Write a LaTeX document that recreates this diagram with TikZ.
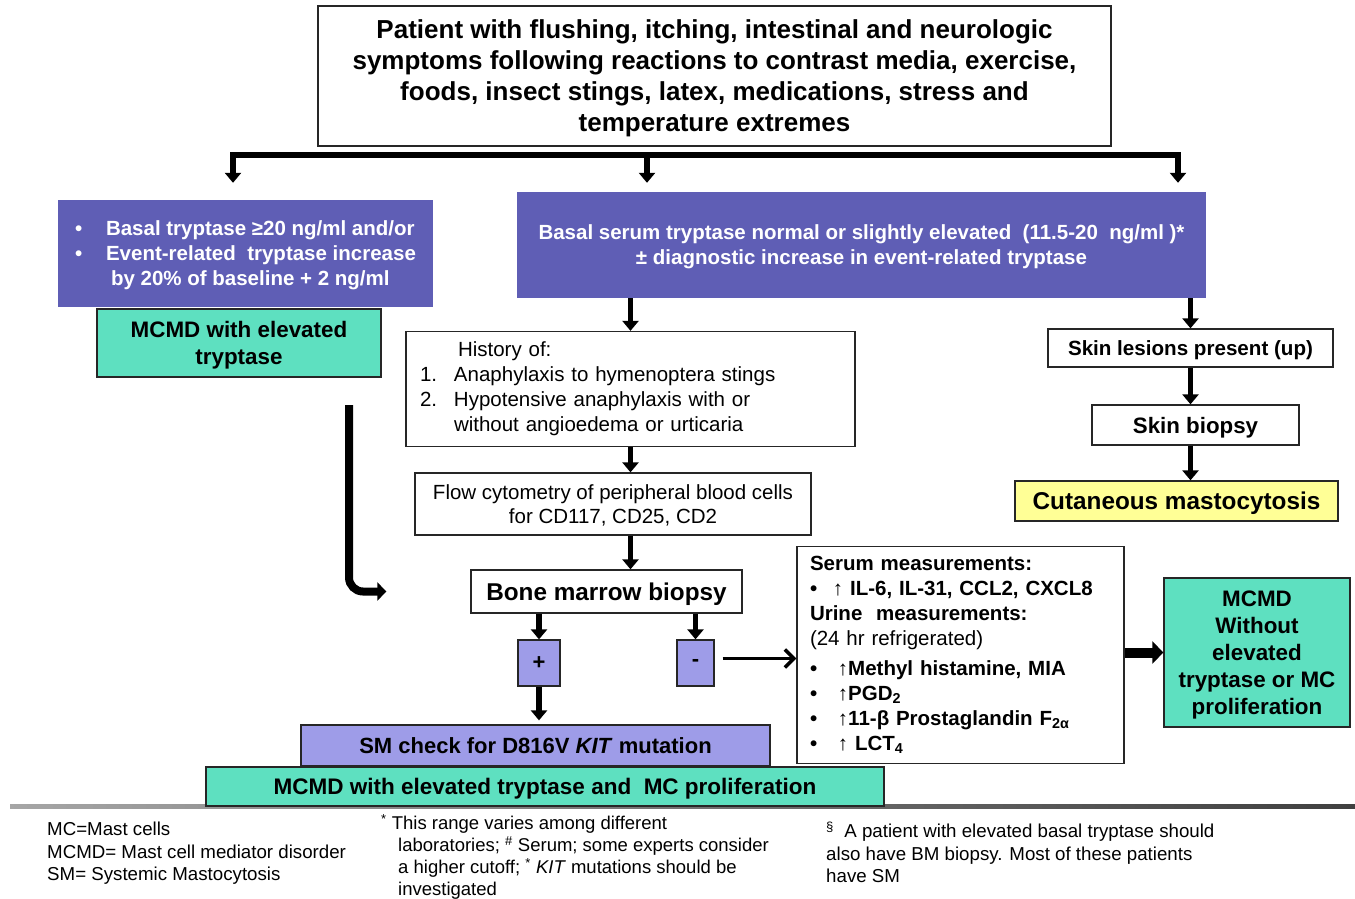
\documentclass[tikz,border=0pt]{standalone}
\usepackage{fontspec}
\setmainfont{Liberation Sans}
\usetikzlibrary{arrows.meta}
\definecolor{boxpurple}{RGB}{95,94,181}
\definecolor{lightpurple}{RGB}{158,156,232}
\definecolor{mint}{RGB}{94,224,192}
\definecolor{paleyellow}{RGB}{255,255,150}
\newcommand{\fsize}[2]{\fontsize{#1}{#2}\selectfont}

\begin{document}
\begin{tikzpicture}[x=1pt, y=-1pt, >={Triangle[length=10pt,width=16pt]},
    plain/.style={draw=black!85, line width=1.3pt, fill=white, inner sep=0pt},
    plainbox/.style={plain, text depth=0pt},
    purplebox/.style={fill=boxpurple, text=white, inner sep=0pt, text depth=0pt},
    mintbox/.style={plainbox, fill=mint},
    arr/.style={->, line width=5.5pt}]
\useasboundingbox (0,0) rectangle (1355,898);
\shade[left color=black!35, right color=black!75] (10,804) rectangle (1355,808);

\node[plainbox, minimum width=793, minimum height=140, align=center, font=\bfseries\fsize{26}{31}] (patient) at (714.5,76)
    {Patient with flushing, itching, intestinal and neurologic\\symptoms following reactions to contrast media, exercise,\\foods, insect stings, latex, medications, stress and\\temperature extremes};
\coordinate (barL) at (233,155);
\coordinate (barM) at (647,155);
\coordinate (barR) at (1178,155);
\draw[line width=5.5pt, line cap=rect] (barL) -- (barR);

\node[purplebox, minimum width=375, minimum height=107, align=left, font=\bfseries\fsize{20.5}{25}] (tryphigh) at (245.5,253.5)
    {\makebox[31pt][l]{\textbullet}Basal tryptase ≥20 ng/ml and/or\\\makebox[31pt][l]{\textbullet}Event-related~ tryptase increase\\\hspace*{36pt}by 20\% of baseline + 2 ng/ml};
\node[mintbox, minimum width=284, minimum height=68, align=center, font=\bfseries\fsize{22.4}{27}] (mcmdhigh) at (239,343) {MCMD with elevated\\tryptase};
\node[purplebox, minimum width=689, minimum height=106, align=center, font=\bfseries\fsize{20.5}{25}] (trypnorm) at (861.5,245)
    {Basal serum tryptase normal or slightly elevated~ (11.5-20~ ng/ml )*\\± diagnostic increase in event-related tryptase};
\draw[arr, shorten >=17pt] (barL) -- (barL |- tryphigh.north);
\draw[arr, shorten >=9pt] (barM) -- (barM |- trypnorm.north);
\draw[arr, shorten >=9pt] (barR) -- (barR |- trypnorm.north);

\node[plain, minimum height=115, text width=421, inner xsep=14pt, align=left, font=\fsize{20.5}{25}] (history) at (630.5,389)
    {\hspace*{38pt}History of:\\\makebox[34pt][l]{1.}Anaphylaxis to hymenoptera stings\\\makebox[34pt][l]{2.}Hypotensive anaphylaxis with or\\\hspace*{34pt}without angioedema or urticaria};
\node[plainbox, minimum width=396, minimum height=62, align=center, font=\fsize{20.5}{24}] (flowcyt) at (613,504)
    {Flow cytometry of peripheral blood cells\\for CD117, CD25, CD2};
\node[plainbox, minimum width=271, minimum height=43, font=\bfseries\fsize{24.3}{28}] (bmbiopsy) at (606.5,591.5) {Bone marrow biopsy};
\draw[arr] (trypnorm.south -| history.north) -- (history.north);
\draw[arr] (history.south) -- (history.south |- flowcyt.north);
\draw[arr] (flowcyt.south -| history.south) -- (bmbiopsy.north -| history.south);

\node[plainbox, fill=lightpurple, minimum width=42, minimum height=46, font=\bfseries\fsize{22}{26}] (bmpos) at (539,663) {+};
\node[plainbox, fill=lightpurple, minimum width=37, minimum height=46, font=\bfseries\fsize{22}{26}] (bmneg) at (695.5,663) {-};
\node[plainbox, fill=lightpurple, minimum width=469, minimum height=41, font=\bfseries\fsize{22}{26}] (smcheck) at (535.5,745.5) {SM check for D816V \textit{KIT} mutation};
\node[mintbox, minimum width=678, minimum height=39, font=\bfseries\fsize{22.5}{26}] (mcmdprolif) at (545,786.5) {MCMD with elevated tryptase and~ MC proliferation};
\draw[arr] (bmbiopsy.south -| bmpos.north) -- (bmpos.north);
\draw[arr] (bmbiopsy.south -| bmneg.north) -- (bmneg.north);
\draw[arr, shorten >=4pt] (bmpos.south) -- (bmpos.south |- smcheck.north);

\node[plain, minimum height=217, text width=301, inner xsep=13pt, align=left, font=\fsize{20.5}{25}] (mediators) at (960.5,655)
    {\textbf{Serum measurements:}\\
     \textbf{\makebox[23pt][l]{\textbullet}↑ IL-6, IL-31, CCL2, CXCL8}\\
     \textbf{Urine~ measurements:}\\
     (24 hr refrigerated)\\[5pt]
     \textbf{\makebox[28pt][l]{\textbullet}↑Methyl histamine, MIA}\\
     \textbf{\makebox[28pt][l]{\textbullet}↑PGD\textsubscript{2}}\\
     \textbf{\makebox[28pt][l]{\textbullet}↑11-β Prostaglandin F\textsubscript{2α}}\\
     \textbf{\makebox[28pt][l]{\textbullet}↑ LCT\textsubscript{4}}};
\node[mintbox, minimum width=186, minimum height=149, align=center, font=\bfseries\fsize{22.4}{27}] (mcmdnone) at (1257,652.5)
    {MCMD\\Without\\elevated\\tryptase or MC\\proliferation};
\draw[->, line width=3pt, shorten <=8pt, >={Straight Barb[length=9pt,width=18pt,line width=3.5pt]}] ([yshift=4.5pt]bmneg.east) -- ([yshift=4.5pt]bmneg.east -| mediators.west);
\draw[->, line width=10pt, >={Triangle[length=11pt,width=22pt]}] (mediators.east |- mcmdnone.west) -- (mcmdnone.west);

\node[plainbox, minimum width=285, minimum height=38, font=\bfseries\fsize{20.6}{24}] (skinlesion) at (1190.5,348) {Skin lesions present (up)};
\node[plainbox, minimum width=207, minimum height=40, font=\bfseries\fsize{22.3}{26}] (skinbiopsy) at (1195.5,425) {Skin biopsy};
\node[plainbox, fill=paleyellow, minimum width=323, minimum height=40, font=\bfseries\fsize{24.3}{28}] (cutaneous) at (1176.5,501) {Cutaneous mastocytosis};
\draw[arr] (trypnorm.south -| skinlesion.north) -- (skinlesion.north);
\draw[arr] (skinlesion.south) -- (skinlesion.south |- skinbiopsy.north);
\draw[arr] (skinbiopsy.south -| skinlesion.south) -- (cutaneous.north -| skinlesion.south);

\coordinate (elbowtop) at (349,405);
\draw[->, line width=8pt, rounded corners=14pt, shorten >=84pt, >={Triangle[length=9pt,width=18pt]}] (elbowtop) |- (bmbiopsy.west);

\node[anchor=north west, align=left, inner sep=0pt, font=\fsize{18.7}{22.5}] (abbrev) at (47,822)
    {MC=Mast cells\\MCMD= Mast cell mediator disorder\\SM= Systemic Mastocytosis};
\node[anchor=north west, align=left, inner sep=0pt, font=\fsize{18.5}{22}] (rangenote) at (381,814)
    {\textsuperscript{*} This range varies among different\\\hspace*{17pt}laboratories; \textsuperscript{\#} Serum; some experts consider\\\hspace*{17pt}a higher cutoff; \textsuperscript{*} \textit{KIT} mutations should be\\\hspace*{17pt}investigated};
\node[anchor=north west, align=left, inner sep=0pt, font=\fsize{18.7}{22.5}] (bmnote) at (826,822)
    {\textsuperscript{§}~ A patient with elevated basal tryptase should\\also have BM biopsy. Most of these patients\\have SM};
\end{tikzpicture}
\end{document}
